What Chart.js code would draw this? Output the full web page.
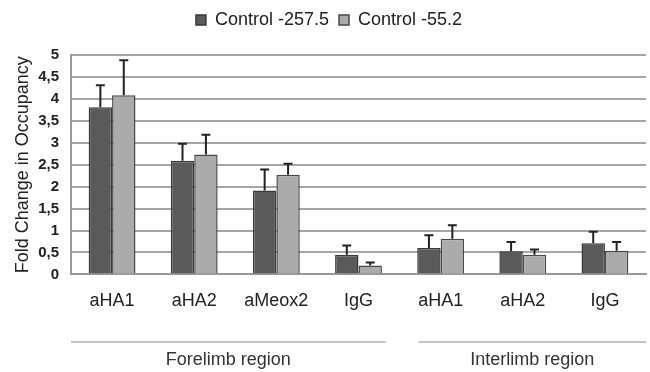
<!DOCTYPE html>
<html>
<head>
<meta charset="utf-8">
<script src="https://cdn.jsdelivr.net/npm/chart.js@4.4.1/dist/chart.umd.min.js"></script>
<style>
  html, body { margin: 0; padding: 0; background: #fff; }
  #wrap { width: 650px; height: 372px; }
</style>
</head>
<body>
<div id="wrap"><canvas id="chart" width="650" height="372"></canvas></div>
<script>
// Datos
const categories = ['aHA1', 'aHA2', 'aMeox2', 'IgG', 'aHA1', 'aHA2', 'IgG'];
const control2575 = [3.81, 2.59, 1.91, 0.45, 0.60, 0.53, 0.71];
const control2575Err = [0.50, 0.39, 0.48, 0.21, 0.29, 0.21, 0.26];
const control552 = [4.08, 2.73, 2.27, 0.20, 0.81, 0.45, 0.54];
const control552Err = [0.80, 0.45, 0.25, 0.07, 0.31, 0.12, 0.20];
const seriesNames = ['Control -257.5', 'Control -55.2'];
const regionNames = ['Forelimb region', 'Interlimb region'];
// inicio / fin de cada región en índice de categoría
const regionStart = [-0.5, 3.73];
const regionEnd = [3.33, 6.5];

const FONT = '"Liberation Sans", Arial, sans-serif';

// Espacio extra bajo la leyenda
const legendGap = {
  id: 'legendGap',
  beforeInit(chart) {
    const fit = chart.legend.fit;
    chart.legend.fit = function () {
      fit.bind(chart.legend)();
      this.height += 16;
    };
  }
};

// Barras de error (solo hacia arriba)
const errorBars = {
  id: 'errorBars',
  afterDatasetsDraw(chart) {
    const { ctx, scales: { y } } = chart;
    const errs = [control2575Err, control552Err];
    ctx.save();
    ctx.strokeStyle = '#222';
    ctx.lineWidth = 2;
    chart.data.datasets.forEach((ds, di) => {
      chart.getDatasetMeta(di).data.forEach((bar, i) => {
        const top = y.getPixelForValue(ds.data[i] + errs[di][i]);
        ctx.beginPath();
        ctx.moveTo(bar.x, bar.y);
        ctx.lineTo(bar.x, top);
        ctx.moveTo(bar.x - 4.5, top);
        ctx.lineTo(bar.x + 4.5, top);
        ctx.stroke();
      });
    });
    ctx.restore();
  }
};

// Líneas y etiquetas de región bajo el eje X
const regionLabels = {
  id: 'regionLabels',
  afterDraw(chart) {
    const { ctx, scales: { x } } = chart;
    ctx.save();
    ctx.strokeStyle = '#8a8a8a';
    ctx.lineWidth = 1.2;
    ctx.fillStyle = '#333';
    ctx.font = '18px ' + FONT;
    ctx.textAlign = 'center';
    ctx.textBaseline = 'middle';
    regionNames.forEach((name, r) => {
      const x0 = x.getPixelForValue(regionStart[r]);
      const x1 = x.getPixelForValue(regionEnd[r]);
      ctx.beginPath();
      ctx.moveTo(x0, 342);
      ctx.lineTo(x1, 342);
      ctx.stroke();
      ctx.fillText(name, (x0 + x1) / 2, 360);
    });
    ctx.restore();
  }
};

new Chart(document.getElementById('chart'), {
  type: 'bar',
  data: {
    labels: categories,
    datasets: [
      {
        label: seriesNames[0],
        data: control2575,
        backgroundColor: '#5a5a5a',
        borderColor: '#3a3a3a',
        borderWidth: 1.5
      },
      {
        label: seriesNames[1],
        data: control552,
        backgroundColor: '#ababab',
        borderColor: '#4a4a4a',
        borderWidth: 1.5
      }
    ]
  },
  options: {
    responsive: false,
    animation: false,
    layout: { padding: { top: 1, left: 12, right: 4, bottom: 44 } },
    plugins: {
      legend: {
        position: 'top',
        labels: {
          boxWidth: 10,
          boxHeight: 10,
          padding: 10,
          color: '#222',
          font: { family: FONT, size: 18 }
        }
      },
      tooltip: { enabled: false }
    },
    datasets: {
      bar: { categoryPercentage: 0.57, barPercentage: 1 }
    },
    scales: {
      x: {
        grid: { display: false, drawTicks: false },
        border: { display: true, color: '#9a9a9a', width: 2 },
        ticks: { padding: 16, color: '#222', font: { family: FONT, size: 18 } }
      },
      y: {
        min: 0,
        max: 5,
        afterFit(scale) { scale.width = 59; },
        grid: { color: '#a6a6a6', lineWidth: 2, drawTicks: false },
        border: { display: true, color: '#9a9a9a', width: 2 },
        ticks: {
          stepSize: 0.5,
          padding: 12,
          color: '#222',
          font: { family: FONT, size: 15, weight: 'bold' },
          callback: (v) => String(v).replace('.', ',')
        },
        title: {
          display: true,
          text: 'Fold Change in Occupancy',
          color: '#222',
          padding: { top: 0, bottom: 0 },
          font: { family: FONT, size: 18 }
        }
      }
    }
  },
  plugins: [legendGap, errorBars, regionLabels]
});
</script>
</body>
</html>
